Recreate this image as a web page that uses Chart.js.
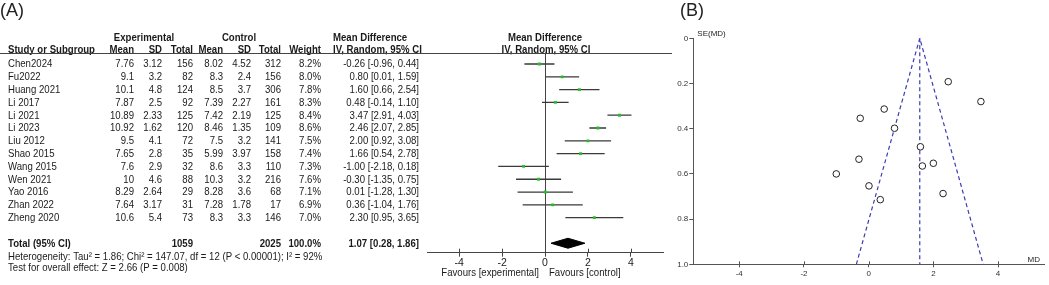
<!DOCTYPE html>
<html>
<head>
<meta charset="utf-8">
<script src="https://cdn.jsdelivr.net/npm/chart.js@4.4.1/dist/chart.umd.min.js"></script>
<style>
html, body { margin: 0; padding: 0; background: #fff; }
#wrap { position: relative; width: 1049px; height: 285px; overflow: hidden; }
#forest { position: absolute; left: 0; top: 0; }
#funnel { position: absolute; left: 660px; top: 0; }
.tag { position: absolute; top: 0; font: 18px "Liberation Sans", Arial, sans-serif; color: #222; }
</style>
</head>
<body>
<div id="wrap">
  <canvas id="forest" width="680" height="285"></canvas>
  <canvas id="funnel" width="389" height="285"></canvas>
  <div class="tag" style="left:0">(A)</div>
  <div class="tag" style="left:680px">(B)</div>
</div>
<script>
// study table
var studies = ['Chen2024', 'Fu2022', 'Huang 2021', 'Li 2017', 'Li 2021', 'Li 2023', 'Liu 2012',
    'Shao 2015', 'Wang 2015', 'Wen 2021', 'Yao 2016', 'Zhan 2022', 'Zheng 2020'];
var expMean = [7.76, 9.1, 10.1, 7.87, 10.89, 10.92, 9.5, 7.65, 7.6, 10, 8.29, 7.64, 10.6];
var expSD = [3.12, 3.2, 4.8, 2.5, 2.33, 1.62, 4.1, 2.8, 2.9, 4.6, 2.64, 3.17, 5.4];
var expN = [156, 82, 124, 92, 125, 120, 72, 35, 32, 88, 29, 31, 73];
var ctlMean = [8.02, 8.3, 8.5, 7.39, 7.42, 8.46, 7.5, 5.99, 8.6, 10.3, 8.28, 7.28, 8.3];
var ctlSD = [4.52, 2.4, 3.7, 2.27, 2.19, 1.35, 3.2, 3.97, 3.3, 3.2, 3.6, 1.78, 3.3];
var ctlN = [312, 156, 306, 161, 125, 109, 141, 158, 110, 216, 68, 17, 146];
var weight = [8.2, 8.0, 7.8, 8.3, 8.4, 8.6, 7.5, 7.4, 7.3, 7.6, 7.1, 6.9, 7.0];
var md = [-0.26, 0.80, 1.60, 0.48, 3.47, 2.46, 2.00, 1.66, -1.00, -0.30, 0.01, 0.36, 2.30];
var ciLow = [-0.96, 0.01, 0.66, -0.14, 2.91, 2.07, 0.92, 0.54, -2.18, -1.35, -1.28, -1.04, 0.95];
var ciHigh = [0.44, 1.59, 2.54, 1.10, 4.03, 2.85, 3.08, 2.78, 0.18, 0.75, 1.30, 1.76, 3.65];

// pooled result
var totalExpN = 1059;
var totalCtlN = 2025;
var totalWeight = 100.0;
var totalMD = 1.07, totalLow = 0.28, totalHigh = 1.86;
var hetText = 'Heterogeneity: Tau\u00b2 = 1.86; Chi\u00b2 = 147.07, df = 12 (P < 0.00001); I\u00b2 = 92%';
var testText = 'Test for overall effect: Z = 2.66 (P = 0.008)';

// funnel plot
var se = [0.354, 0.398, 0.480, 0.313, 0.280, 0.192, 0.553, 0.565, 0.600, 0.535, 0.653, 0.714, 0.687];
var funnelCenter = 1.58;
var funnelLimits = [-0.38, 3.54];

var diffTicks = [-4, -2, 0, 2, 4];
var mdTicks = [-4, -2, 0, 2, 4];
var seTicks = [0, 0.2, 0.4, 0.6, 0.8, 1];

Chart.defaults.font.family = '"Liberation Sans", Arial, sans-serif';
Chart.defaults.color = '#222';

var FONT = 10.5;
var SX = 0.915;   // the source text is a bit narrow
var totalRow = studies.length + 1;

var forestText = {
    id: 'forestText',
    afterDraw: function(chart) {
        var ctx = chart.ctx;
        var ys = chart.scales.y;
        var xs = chart.scales.x;
        var area = chart.chartArea;

        function put(str, px, row, align, bold) {
            ctx.font = (bold ? 'bold ' : '') + FONT + 'px "Liberation Sans", Arial, sans-serif';
            ctx.textAlign = align;
            ctx.save();
            ctx.translate(px, ys.getPixelForValue(row) + 0.5);
            ctx.scale(SX, 1);
            ctx.fillText(str, 0, 0);
            ctx.restore();
        }
        function ci(m, lo, hi) {
            return m.toFixed(2) + ' [' + lo.toFixed(2) + ', ' + hi.toFixed(2) + ']';
        }

        ctx.save();
        ctx.fillStyle = '#1a1a1a';
        ctx.textBaseline = 'middle';

        // headers
        var zero = xs.getPixelForValue(0);
        put('Experimental', 144, -2.1, 'center', true);
        put('Control', 239, -2.1, 'center', true);
        put('Mean Difference', 333, -2.1, 'left', true);
        put('Mean Difference', zero, -2.1, 'center', true);
        put('Study or Subgroup', 8, -1.13, 'left', true);
        put('Mean', 134, -1.13, 'right', true);
        put('SD', 162, -1.13, 'right', true);
        put('Total', 193, -1.13, 'right', true);
        put('Mean', 223, -1.13, 'right', true);
        put('SD', 251, -1.13, 'right', true);
        put('Total', 281, -1.13, 'right', true);
        put('Weight', 321, -1.13, 'right', true);
        put('IV, Random, 95% CI', 333, -1.13, 'left', true);
        put('IV, Random, 95% CI', zero + 1, -1.13, 'center', true);

        studies.forEach(function(s, i) {
            put(s, 8, i, 'left');
            put(String(expMean[i]), 134, i, 'right');
            put(String(expSD[i]), 162, i, 'right');
            put(String(expN[i]), 193, i, 'right');
            put(String(ctlMean[i]), 223, i, 'right');
            put(String(ctlSD[i]), 251, i, 'right');
            put(String(ctlN[i]), 281, i, 'right');
            put(weight[i].toFixed(1) + '%', 321, i, 'right');
            put(ci(md[i], ciLow[i], ciHigh[i]), 419, i, 'right');
        });

        put('Total (95% CI)', 8, totalRow, 'left', true);
        put(String(totalExpN), 193, totalRow, 'right', true);
        put(String(totalCtlN), 281, totalRow, 'right', true);
        put(totalWeight.toFixed(1) + '%', 321, totalRow, 'right', true);
        put(ci(totalMD, totalLow, totalHigh), 419, totalRow, 'right', true);
        put(hetText, 8, totalRow + 1.08, 'left');
        put(testText, 8, totalRow + 1.94, 'left');

        put('Favours [experimental]', zero - 6, totalRow + 2.3, 'right');
        put('Favours [control]', zero + 4, totalRow + 2.3, 'left');

        // header rule
        ctx.strokeStyle = '#444';
        ctx.lineWidth = 1;
        ctx.beginPath();
        ctx.moveTo(0, Math.round(area.top) + 0.5);
        ctx.lineTo(672, Math.round(area.top) + 0.5);
        ctx.stroke();

        // tick marks poke up above the axis too
        ctx.beginPath();
        diffTicks.forEach(function(v) {
            var px = Math.round(xs.getPixelForValue(v)) + 0.5;
            ctx.moveTo(px, area.bottom - 4);
            ctx.lineTo(px, area.bottom);
        });
        ctx.stroke();
        ctx.restore();
    }
};

// CI segments, broken by a null between studies
var ciSegments = [];
studies.forEach(function(s, i) {
    ciSegments.push({ x: ciLow[i], y: i }, { x: ciHigh[i], y: i }, { x: ciHigh[i], y: null });
});
var diamondH = 0.39;
var diamond = [
    { x: totalLow, y: totalRow },
    { x: totalMD, y: totalRow - diamondH },
    { x: totalHigh, y: totalRow },
    { x: totalMD, y: totalRow + diamondH },
    { x: totalLow, y: totalRow }
];

new Chart(document.getElementById('forest').getContext('2d'), {
    type: 'line',
    data: {
        datasets: [{
            label: 'estimate',
            data: md.map(function(v, i) { return { x: v, y: i }; }),
            showLine: false,
            pointStyle: 'rect',
            pointRadius: 2,
            pointBackgroundColor: '#1fc21f',
            pointBorderWidth: 0,
            order: 0
        }, {
            label: 'ci',
            data: ciSegments,
            borderColor: '#3a3a3a',
            borderWidth: 1.3,
            pointRadius: 0,
            spanGaps: false,
            order: 1
        }, {
            label: 'total',
            data: diamond,
            borderColor: '#000',
            borderWidth: 1,
            backgroundColor: '#000',
            fill: 'shape',
            pointRadius: 0,
            order: 2
        }]
    },
    options: {
        responsive: false,
        animation: false,
        devicePixelRatio: 1,
        layout: { padding: { left: 427, right: 17, top: 52.5, bottom: 0 } },
        plugins: { legend: { display: false }, tooltip: { enabled: false } },
        scales: {
            x: {
                type: 'linear',
                min: -5.5,
                max: 5.5,
                afterBuildTicks: function(s) { s.ticks = diffTicks.map(function(v) { return { value: v }; }); },
                afterFit: function(s) { s.height = 32.3; },
                grid: {
                    color: function(c) { return c.tick && c.tick.value === 0 ? '#444' : 'rgba(0,0,0,0)'; },
                    tickColor: '#444',
                    tickLength: 4
                },
                border: { color: '#444', width: 1 },
                ticks: { font: { size: 10.5 }, color: '#222', padding: 0, autoSkip: false, maxRotation: 0 }
            },
            y: {
                type: 'linear',
                display: false,
                reverse: true,
                min: -0.9,
                max: 14.74
            }
        }
    },
    plugins: [forestText]
});

var funnelText = {
    id: 'funnelText',
    afterDraw: function(chart) {
        var ctx = chart.ctx, area = chart.chartArea;
        ctx.save();
        ctx.fillStyle = '#222';
        ctx.font = '8px "Liberation Sans", Arial, sans-serif';
        ctx.textBaseline = 'middle';
        ctx.textAlign = 'left';
        ctx.fillText('SE(MD)', area.left + 4, area.top - 5);
        ctx.textAlign = 'right';
        ctx.fillText('MD', area.right - 4, area.bottom - 5);

        // x ticks cross the axis
        var xs = chart.scales.x;
        ctx.strokeStyle = '#555';
        ctx.lineWidth = 1;
        ctx.beginPath();
        mdTicks.forEach(function(v) {
            var px = Math.round(xs.getPixelForValue(v)) + 0.5;
            ctx.moveTo(px, area.bottom - 3);
            ctx.lineTo(px, area.bottom);
        });
        ctx.stroke();
        ctx.restore();
    }
};

new Chart(document.getElementById('funnel').getContext('2d'), {
    type: 'line',
    data: {
        datasets: [{
            label: 'studies',
            data: md.map(function(v, i) { return { x: v, y: se[i] }; }),
            showLine: false,
            pointRadius: 3.3,
            pointBorderWidth: 1,
            pointBorderColor: '#222',
            pointBackgroundColor: '#fff',
            order: 0
        }, {
            label: 'limits',
            data: [
                { x: funnelLimits[0], y: 1 },
                { x: funnelCenter, y: 0 },
                { x: funnelLimits[1], y: 1 }
            ],
            borderColor: '#3c3cb4',
            borderWidth: 1.2,
            borderDash: [4, 3],
            pointRadius: 0,
            order: 1
        }, {
            label: 'center',
            data: [{ x: funnelCenter, y: 0 }, { x: funnelCenter, y: 1 }],
            borderColor: '#3c3cb4',
            borderWidth: 1.2,
            borderDash: [4, 3],
            pointRadius: 0,
            order: 2
        }]
    },
    options: {
        responsive: false,
        animation: false,
        devicePixelRatio: 1,
        layout: { padding: { left: 0, right: 0, top: 38.3, bottom: 0 } },
        plugins: { legend: { display: false }, tooltip: { enabled: false } },
        scales: {
            x: {
                type: 'linear',
                min: -5.42,
                max: 5.42,
                afterBuildTicks: function(s) { s.ticks = mdTicks.map(function(v) { return { value: v }; }); },
                afterFit: function(s) { s.height = 20.7; },
                grid: { drawOnChartArea: false, color: '#555', tickLength: 3 },
                border: { color: '#555', width: 1 },
                ticks: { font: { size: 8 }, color: '#333', padding: 2, autoSkip: false, maxRotation: 0 }
            },
            y: {
                type: 'linear',
                reverse: true,
                min: 0,
                max: 1,
                afterBuildTicks: function(s) { s.ticks = seTicks.map(function(v) { return { value: v }; }); },
                afterFit: function(s) { s.width = 33.3; },
                grid: { drawOnChartArea: false, color: '#555', tickLength: 4 },
                border: { color: '#555', width: 1 },
                ticks: { font: { size: 8 }, color: '#333', padding: 1, autoSkip: false }
            }
        }
    },
    plugins: [funnelText]
});
</script>
</body>
</html>
